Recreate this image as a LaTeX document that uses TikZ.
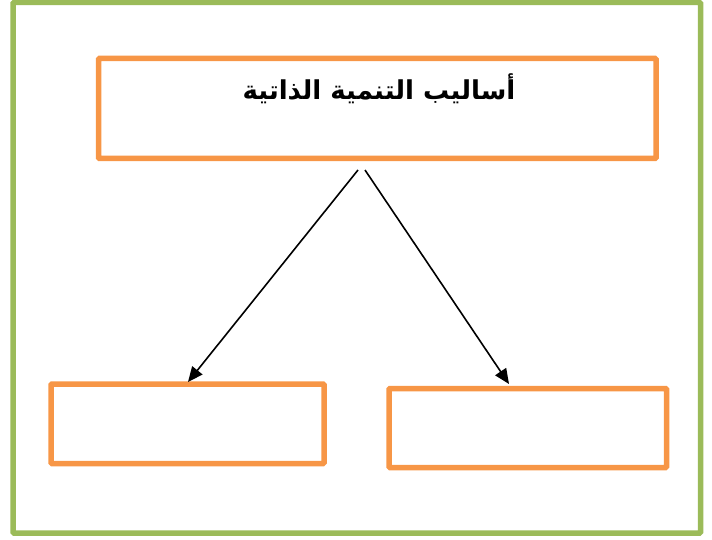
\documentclass[tikz,border=0pt]{standalone}
\usepackage{fontspec}
\usetikzlibrary{arrows.meta}
\newfontfamily\arabicfont[Script=Arabic]{DejaVu Sans}
\TeXXeTstate=1
\definecolor{frameGreen}{HTML}{9BBB59}
\definecolor{boxOrange}{HTML}{F79646}
\begin{document}
\begin{tikzpicture}[x=1pt,y=-1pt,
  obox/.style={draw=boxOrange,line width=5.5pt,rounded corners=1pt},
  conn/.style={line width=1.6pt,-{Triangle[length=15pt,width=13pt]}}]
\useasboundingbox (0,0) rectangle (712,540);
\draw[frameGreen,line width=5.5pt,rounded corners=1pt] (13,2.5) rectangle (700.5,533);
\draw[obox] (98.5,58.5) rectangle (656,158.5);
\node[font=\arabicfont\bfseries\fontsize{26}{30}\selectfont,anchor=center] (title) at (379,89) {\beginR أساليب التنمية الذاتية\endR};
\draw[obox] (51,384) rectangle (324,463.5);
\draw[obox] (389,388.5) rectangle (666.5,467.5);
\coordinate (s1) at (358,170);
\coordinate (s2) at (365,170);
\coordinate (e1) at (188,382);
\coordinate (e2) at (509,384);
\draw[conn] (s1) -- (e1);
\draw[conn] (s2) -- (e2);
\end{tikzpicture}
\end{document}
